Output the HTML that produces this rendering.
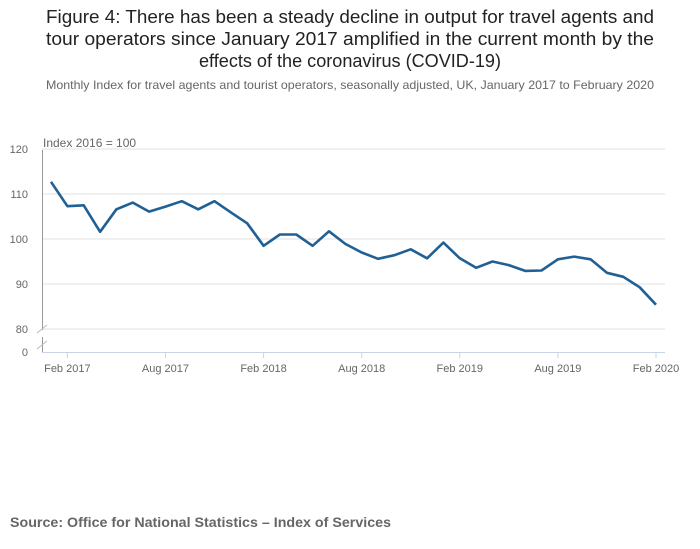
<!DOCTYPE html>
<html><head><meta charset="utf-8"><style>
html,body{margin:0;padding:0;background:#fff;}
svg{display:block;font-family:"Liberation Sans",sans-serif;}
</style></head><body>
<svg id="chart" width="700" height="549" viewBox="0 0 700 549" xmlns="http://www.w3.org/2000/svg">
<g fill="#222" font-size="18" text-anchor="middle">
<text x="350" y="23" textLength="608" lengthAdjust="spacingAndGlyphs">Figure 4: There has been a steady decline in output for travel agents and</text>
<text x="350" y="45" textLength="608" lengthAdjust="spacingAndGlyphs">tour operators since January 2017 amplified in the current month by the</text>
<text x="350" y="67" textLength="302" lengthAdjust="spacingAndGlyphs">effects of the coronavirus (COVID-19)</text>
</g>
<text x="350" y="89" font-size="12" fill="#666" text-anchor="middle" textLength="608" lengthAdjust="spacingAndGlyphs">Monthly Index for travel agents and tourist operators, seasonally adjusted, UK, January 2017 to February 2020</text>
<text x="43" y="147" font-size="12" fill="#666">Index 2016 = 100</text>
<g id="grid"></g><g id="axes"></g><g id="series"></g>
<text x="10" y="527" font-size="14" font-weight="bold" fill="#666" textLength="381" lengthAdjust="spacingAndGlyphs">Source: Office for National Statistics – Index of Services</text>
</svg>
<script>
const months = ["Jan 2017","Feb 2017","Mar 2017","Apr 2017","May 2017","Jun 2017","Jul 2017","Aug 2017","Sep 2017","Oct 2017","Nov 2017","Dec 2017","Jan 2018","Feb 2018","Mar 2018","Apr 2018","May 2018","Jun 2018","Jul 2018","Aug 2018","Sep 2018","Oct 2018","Nov 2018","Dec 2018","Jan 2019","Feb 2019","Mar 2019","Apr 2019","May 2019","Jun 2019","Jul 2019","Aug 2019","Sep 2019","Oct 2019","Nov 2019","Dec 2019","Jan 2020","Feb 2020"];
const values = [112.7,107.3,107.5,101.6,106.6,108.1,106.1,107.2,108.4,106.6,108.4,105.9,103.5,98.5,101,101,98.5,101.7,98.9,97,95.6,96.4,97.7,95.7,99.2,95.7,93.6,95,94.2,92.9,93,95.5,96.1,95.5,92.5,91.6,89.3,85.4];
const yTicks = [80,90,100,110,120];
const xTickLabels = ["Feb 2017","Aug 2017","Feb 2018","Aug 2018","Feb 2019","Aug 2019","Feb 2020"];
const NS="http://www.w3.org/2000/svg";
const x0=51, x1=656;
function xScale(i){return x0+(x1-x0)*i/(months.length-1);}
function yScale(v){return 239-(v-100)*4.5;}
function mk(t,a,p){const e=document.createElementNS(NS,t);for(const k in a)e.setAttribute(k,a[k]);p.appendChild(e);return e;}
const grid=document.getElementById('grid'),axes=document.getElementById('axes'),series=document.getElementById('series');
yTicks.forEach(v=>{const y=yScale(v);
 const l=mk('line',{x1:42,x2:665,y1:y,y2:y,stroke:'#e0e0e0','stroke-width':1},grid);
 
 
 const t=mk('text',{x:28,y:y+4,'font-size':11,fill:'#666','text-anchor':'end'},axes);t.textContent=v;
 
 
});
const z=mk('text',{x:28,y:356,'font-size':11,fill:'#666','text-anchor':'end'},axes);z.textContent='0';


const ya=mk('path',{d:'M42.5 150 V330 M42.5 337 V352',stroke:'#999',fill:'none'},axes);


const br=mk('path',{d:'M37 333 L47 325 M37 349 L47 341',stroke:'#bbb',fill:'none'},axes);


const xa=mk('line',{x1:42,x2:665,y1:352.5,y2:352.5,stroke:'#c8d4e6'},axes);


xTickLabels.forEach(lab=>{const i=months.indexOf(lab);const x=xScale(i);
 const tk=mk('line',{x1:x,x2:x,y1:352,y2:358,stroke:'#c8d4e6'},axes);
 
 
 const t=mk('text',{x:x,y:372,'font-size':11,fill:'#666','text-anchor':'middle'},axes);t.textContent=lab;
 
 
});
const d=values.map((v,i)=>(i?'L':'M')+xScale(i).toFixed(1)+' '+yScale(v).toFixed(1)).join(' ');
const p=mk('path',{d:d,fill:'none',stroke:'#206095','stroke-width':2.6,'stroke-linejoin':'round'},series);


</script>
</body></html>
